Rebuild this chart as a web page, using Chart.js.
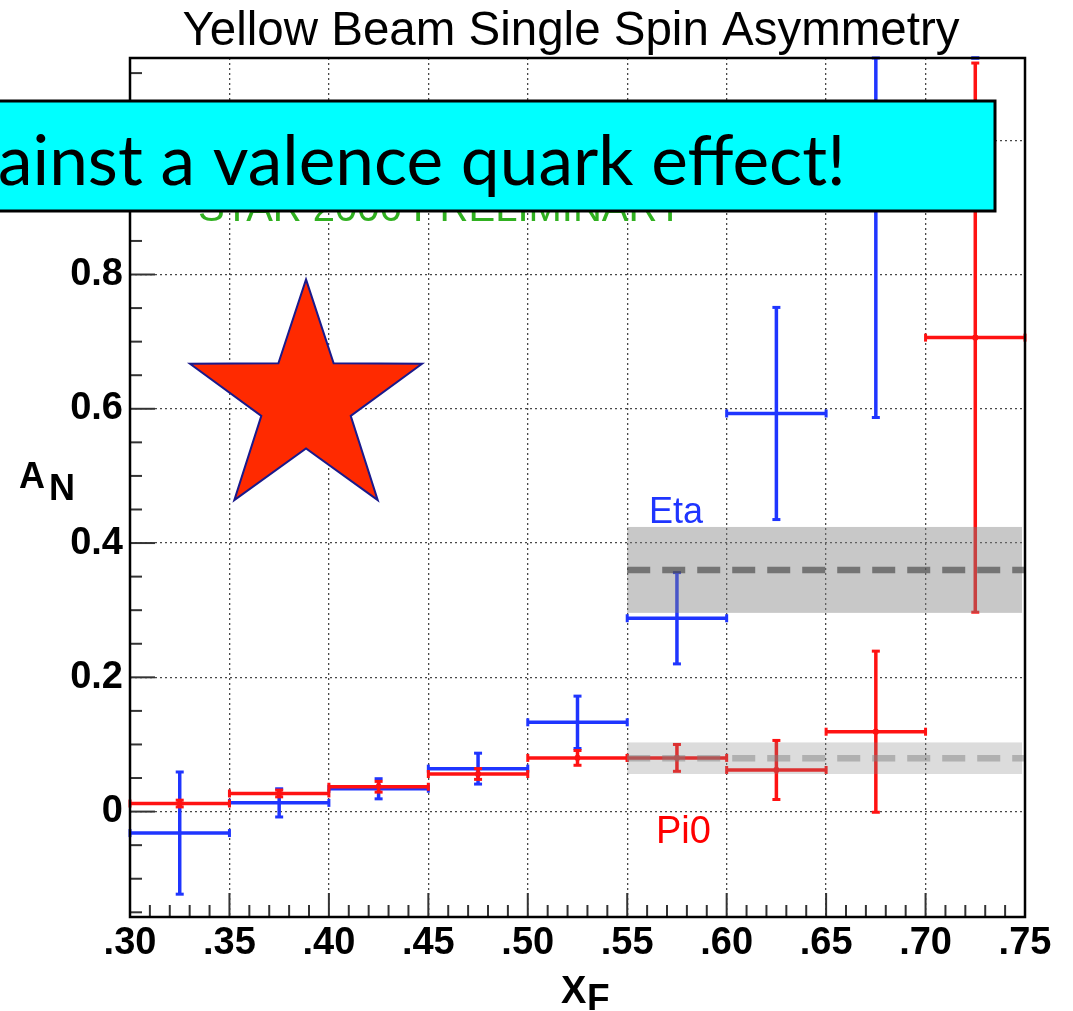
<!DOCTYPE html>
<html>
<head>
<meta charset="utf-8">
<title>Yellow Beam Single Spin Asymmetry</title>
<script src="https://cdn.jsdelivr.net/npm/chart.js@4.4.0/dist/chart.umd.min.js"></script>
<style>
  html, body { margin: 0; padding: 0; background: #fff; }
  #wrap { width: 1073px; height: 1011px; }
</style>
</head>
<body>
<div id="wrap"><canvas id="asymChart" width="1073" height="1011"></canvas></div>
<script>
// xF bin centres, each bin is 0.05 wide
const xFBins = [0.325, 0.375, 0.425, 0.475, 0.525, 0.575, 0.625, 0.675, 0.725];
const binHalfWidth = 0.025;

// Eta asymmetry and stat errors
const etaAN  = [-0.032, 0.013, 0.034, 0.064, 0.133, 0.288, 0.593, 0.980, 1.450];
const etaErr = [ 0.091, 0.021, 0.015, 0.023, 0.039, 0.068, 0.158, 0.393, 0.300];

// Pi0 asymmetry and stat errors
const pi0AN  = [0.012, 0.027, 0.037, 0.056, 0.080, 0.080, 0.062, 0.119, 0.706];
const pi0Err = [0.005, 0.005, 0.008, 0.008, 0.011, 0.020, 0.044, 0.120, 0.409];

// averages over xF > 0.55 with their uncertainty bands
const bandLabels = ['Eta', 'Pi0'];
const bandMean   = [0.360, 0.0795];
const bandHalf   = [0.064, 0.0235];
const bandRange  = [0.55, 0.7485];

const xTickValues = [0.30, 0.35, 0.40, 0.45, 0.50, 0.55, 0.60, 0.65, 0.70, 0.75];

const BLUE = '#1f35ff';
const RED = '#ff1212';
const AXIS_FONT = '"Liberation Sans", Arial, Helvetica, sans-serif';

function line(ctx, x1, y1, x2, y2) {
  ctx.beginPath();
  ctx.moveTo(x1, y1);
  ctx.lineTo(x2, y2);
  ctx.stroke();
}

function drawErrorBars(chart, ys, errs, color) {
  const ctx = chart.ctx;
  const xs = chart.scales.x, yS = chart.scales.y;
  const area = chart.chartArea;
  const clampY = v => Math.min(Math.max(v, yS.min), yS.max);
  ctx.save();
  ctx.beginPath();
  ctx.rect(area.left - 3, area.top - 3, area.width + 6, area.height + 6);
  ctx.clip();
  ctx.strokeStyle = color;
  xFBins.forEach((x, i) => {
    const px = xs.getPixelForValue(x);
    const pxL = xs.getPixelForValue(x - binHalfWidth);
    const pxR = xs.getPixelForValue(x + binHalfWidth);
    const hi = yS.getPixelForValue(clampY(ys[i] + errs[i]));
    const lo = yS.getPixelForValue(clampY(ys[i] - errs[i]));
    ctx.lineWidth = 3.5;
    line(ctx, px, hi, px, lo);
    ctx.lineWidth = 3;
    line(ctx, px - 4, hi, px + 4, hi);
    line(ctx, px - 4, lo, px + 4, lo);
    if (ys[i] >= yS.min && ys[i] <= yS.max) {
      const py = yS.getPixelForValue(ys[i]);
      ctx.lineWidth = 3.5;
      line(ctx, pxL, py, pxR, py);
      ctx.lineWidth = 3;
      line(ctx, pxL, py - 4, pxL, py + 4);
      line(ctx, pxR, py - 4, pxR, py + 4);
    }
  });
  ctx.restore();
}

const bandStyles = [
  { fill: 'rgba(128,128,128,0.43)', dash: 'rgba(70,70,70,0.65)' },
  { fill: 'rgba(128,128,128,0.28)', dash: 'rgba(128,128,128,0.48)' }
];

const asymPlugin = {
  id: 'asymPlugin',
  beforeDraw(chart) {
    const ctx = chart.ctx;
    ctx.save();
    ctx.fillStyle = '#fff';
    ctx.fillRect(0, 0, chart.width, chart.height);
    ctx.restore();
  },
  afterDatasetsDraw(chart) {
    const ctx = chart.ctx;
    const xs = chart.scales.x, yS = chart.scales.y;
    const area = chart.chartArea;

    drawErrorBars(chart, etaAN, etaErr, BLUE);
    drawErrorBars(chart, pi0AN, pi0Err, RED);

    // average bands with dashed mean line
    bandMean.forEach((m, i) => {
      const x1 = xs.getPixelForValue(bandRange[0]);
      const x2 = xs.getPixelForValue(bandRange[1]);
      const yTop = yS.getPixelForValue(m + bandHalf[i]);
      const yBot = yS.getPixelForValue(m - bandHalf[i]);
      ctx.save();
      ctx.fillStyle = bandStyles[i].fill;
      ctx.fillRect(x1, yTop, x2 - x1, yBot - yTop);
      ctx.strokeStyle = bandStyles[i].dash;
      ctx.lineWidth = 6.5;
      ctx.setLineDash([23, 12]);
      line(ctx, x1, yS.getPixelForValue(m), area.right, yS.getPixelForValue(m));
      ctx.restore();
    });

    // inward tick marks, ROOT style
    ctx.save();
    ctx.strokeStyle = '#333';
    ctx.lineWidth = 2;
    for (let k = 0; k <= 45; k++) {
      const v = 0.30 + k * 0.01;
      const px = xs.getPixelForValue(v);
      const len = (k % 5 === 0) ? 24 : 12;
      line(ctx, px, area.bottom, px, area.bottom - len);
    }
    for (let k = -3; k <= 22; k++) {
      const v = k * 0.05;
      const py = yS.getPixelForValue(v);
      const len = (k % 4 === 0) ? 25 : 12;
      line(ctx, area.left, py, area.left + len, py);
    }
    ctx.restore();

    // frame
    ctx.save();
    ctx.strokeStyle = '#000';
    ctx.lineWidth = 2.5;
    ctx.strokeRect(area.left, area.top, area.width, area.height);
    ctx.restore();
  },
  afterDraw(chart) {
    const ctx = chart.ctx;
    ctx.save();
    ctx.fillStyle = '#000';
    ctx.textBaseline = 'alphabetic';
    ctx.textAlign = 'center';
    ctx.font = '47.5px ' + AXIS_FONT;
    ctx.fillText('Yellow Beam Single Spin Asymmetry', 571, 45);

    // axis titles with subscripts
    ctx.textAlign = 'left';
    ctx.font = 'bold 36px ' + AXIS_FONT;
    ctx.fillText('A', 19, 488);
    ctx.fillText('N', 49, 500);
    ctx.font = 'bold 38px ' + AXIS_FONT;
    ctx.fillText('X', 561, 1003);
    ctx.font = 'bold 37px ' + AXIS_FONT;
    ctx.fillText('F', 587, 1010);

    // series labels
    ctx.font = '36px ' + AXIS_FONT;
    ctx.fillStyle = BLUE;
    ctx.fillText(bandLabels[0], 649, 523);
    ctx.font = '38px ' + AXIS_FONT;
    ctx.fillStyle = '#ff0000';
    ctx.fillText(bandLabels[1], 656, 843);

    ctx.font = '40px ' + AXIS_FONT;
    ctx.fillStyle = '#30b020';
    ctx.fillText('STAR 2006 PRELIMINARY', 198, 221);

    // star marker
    const xs = chart.scales.x, yS = chart.scales.y;
    const cx = xs.getPixelForValue(0.3885), cy = yS.getPixelForValue(0.611);
    const R = 122, r = 47;
    ctx.beginPath();
    for (let k = 0; k < 10; k++) {
      const ang = -Math.PI / 2 + k * Math.PI / 5;
      const rad = (k % 2 === 0) ? R : r;
      const px = cx + rad * Math.cos(ang), py = cy + rad * Math.sin(ang);
      if (k === 0) ctx.moveTo(px, py); else ctx.lineTo(px, py);
    }
    ctx.closePath();
    ctx.fillStyle = '#ff2a00';
    ctx.fill();
    ctx.strokeStyle = '#1a1a8c';
    ctx.lineWidth = 2;
    ctx.stroke();

    // callout box
    ctx.fillStyle = '#00ffff';
    ctx.fillRect(-5, 100, 1000, 112);
    ctx.strokeStyle = '#000';
    ctx.lineWidth = 3;
    ctx.strokeRect(-5, 101, 1000, 110);
    const msg = 'ainst a valence quark effect!';
    let size = 70;
    ctx.font = size + 'px Lato, "Open Sans", sans-serif';
    size = size * 848 / ctx.measureText(msg).width;
    ctx.font = size + 'px Lato, "Open Sans", sans-serif';
    ctx.fillStyle = '#000';
    ctx.fillText(msg, -2, 185);
    ctx.restore();
  }
};

new Chart(document.getElementById('asymChart'), {
  type: 'scatter',
  data: {
    datasets: [
      {
        label: 'Pi0',
        data: xFBins.map((x, i) => ({ x: x, y: pi0AN[i] })),
        backgroundColor: RED,
        borderColor: RED,
        pointStyle: 'rect',
        pointRadius: 3
      },
      {
        label: 'Eta',
        data: xFBins.map((x, i) => ({ x: x, y: etaAN[i] })),
        backgroundColor: BLUE,
        borderColor: BLUE,
        pointRadius: 0
      }
    ]
  },
  options: {
    responsive: false,
    animation: false,
    devicePixelRatio: 1,
    layout: { padding: { top: 58, right: 48, left: 0, bottom: 0 } },
    plugins: {
      legend: { display: false },
      tooltip: { enabled: false }
    },
    scales: {
      x: {
        type: 'linear',
        min: 0.30,
        max: 0.75,
        afterFit: (scale) => { scale.height = 94; },
        afterBuildTicks: (scale) => { scale.ticks = xTickValues.map(v => ({ value: v })); },
        ticks: {
          padding: 4,
          color: '#000',
          font: { family: AXIS_FONT, size: 38, weight: 'bold' },
          callback: (v) => '.' + Number(v).toFixed(2).split('.')[1]
        },
        grid: { color: 'rgba(40,40,40,0.85)', lineWidth: 1.3, drawTicks: false },
        border: { display: false, dash: [2, 3] }
      },
      y: {
        type: 'linear',
        min: -0.157,
        max: 1.1225,
        afterFit: (scale) => { scale.width = 130; },
        ticks: {
          stepSize: 0.2,
          includeBounds: false,
          padding: 7,
          color: '#000',
          font: { family: AXIS_FONT, size: 38, weight: 'bold' },
          callback: (v) => (Math.abs(v) < 1e-9 ? '0' : Number(v).toFixed(1))
        },
        grid: { color: 'rgba(40,40,40,0.85)', lineWidth: 1.3, drawTicks: false },
        border: { display: false, dash: [2, 3] }
      }
    }
  },
  plugins: [asymPlugin]
});
</script>
</body>
</html>
